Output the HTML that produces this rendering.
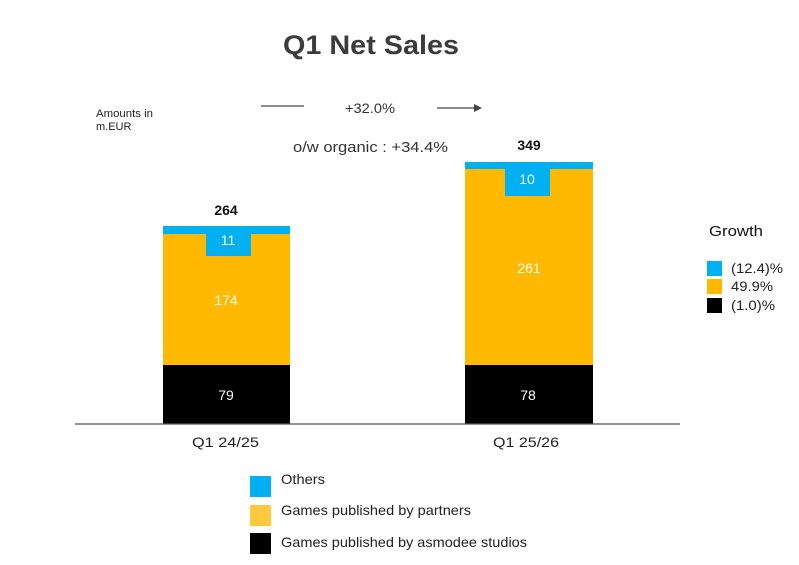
<!DOCTYPE html>
<html>
<head>
<meta charset="utf-8">
<style>
  html, body { margin:0; padding:0; background:#fff; }
  svg { display:block; }
  text { font-family: "Liberation Sans", "DejaVu Sans", sans-serif; }
</style>
</head>
<body>
<svg width="799" height="565" viewBox="0 0 799 565" xmlns="http://www.w3.org/2000/svg">
  <rect width="799" height="565" fill="#fff"/>

  <!-- Title -->
  <text x="283" y="54" font-size="27" font-weight="bold" fill="#3b3b3b" textLength="176" lengthAdjust="spacingAndGlyphs">Q1 Net Sales</text>

  <!-- Amounts in -->
  <text x="96" y="117" font-size="11" fill="#222" textLength="57" lengthAdjust="spacingAndGlyphs">Amounts in</text>
  <text x="96" y="130" font-size="11" fill="#222">m.EUR</text>

  <!-- growth line -->
  <line x1="261" y1="106" x2="304" y2="106" stroke="#444" stroke-width="1.3"/>
  <text x="345" y="113" font-size="14" fill="#333" textLength="50" lengthAdjust="spacingAndGlyphs">+32.0%</text>
  <line x1="437" y1="108" x2="476" y2="108" stroke="#444" stroke-width="1.3"/>
  <polygon points="474,104 482,108 474,112" fill="#444"/>
  <text x="293" y="152" font-size="15" fill="#333" textLength="155" lengthAdjust="spacingAndGlyphs">o/w organic : +34.4%</text>

  <!-- Bar 1 -->
  <rect x="163" y="226" width="127" height="8" fill="#00B0F0"/>
  <rect x="163" y="234" width="127" height="131" fill="#FFB900"/>
  <rect x="206" y="233" width="45" height="23" fill="#00B0F0"/>
  <rect x="163" y="365" width="127" height="59" fill="#000"/>
  <text x="228" y="245" text-anchor="middle" font-size="14" fill="#fff">11</text>
  <text x="226" y="305" text-anchor="middle" font-size="14" fill="#fff">174</text>
  <text x="226" y="400" text-anchor="middle" font-size="14" fill="#fff">79</text>
  <text x="226" y="215" text-anchor="middle" font-size="14" font-weight="bold" fill="#111">264</text>

  <!-- Bar 2 -->
  <rect x="465" y="162" width="128" height="7" fill="#00B0F0"/>
  <rect x="465" y="169" width="128" height="196" fill="#FFB900"/>
  <rect x="505" y="168" width="45" height="28" fill="#00B0F0"/>
  <rect x="465" y="365" width="128" height="59" fill="#000"/>
  <text x="527" y="184" text-anchor="middle" font-size="14" fill="#fff">10</text>
  <text x="529" y="273" text-anchor="middle" font-size="14" fill="#fff">261</text>
  <text x="528" y="400" text-anchor="middle" font-size="14" fill="#fff">78</text>
  <text x="529" y="150" text-anchor="middle" font-size="14" font-weight="bold" fill="#111">349</text>

  <!-- axis -->
  <line x1="75" y1="424" x2="680" y2="424" stroke="#555" stroke-width="1.3"/>
  <text x="192" y="447" font-size="14" fill="#222" textLength="67" lengthAdjust="spacingAndGlyphs">Q1 24/25</text>
  <text x="493" y="447" font-size="14" fill="#222" textLength="66" lengthAdjust="spacingAndGlyphs">Q1 25/26</text>

  <!-- Growth legend -->
  <text x="709" y="236" font-size="15" fill="#111" textLength="54" lengthAdjust="spacingAndGlyphs">Growth</text>
  <rect x="707" y="261" width="15" height="15" fill="#00B0F0"/>
  <rect x="707" y="279" width="15" height="15" fill="#FFB900"/>
  <rect x="707" y="298" width="15" height="15" fill="#000"/>
  <text x="731" y="273" font-size="14" fill="#222" textLength="52" lengthAdjust="spacingAndGlyphs">(12.4)%</text>
  <text x="731" y="291" font-size="14" fill="#222" textLength="42" lengthAdjust="spacingAndGlyphs">49.9%</text>
  <text x="731" y="310" font-size="14" fill="#222" textLength="44" lengthAdjust="spacingAndGlyphs">(1.0)%</text>

  <!-- Bottom legend -->
  <rect x="250" y="476" width="21" height="21" fill="#00B0F0"/>
  <rect x="250" y="505" width="21" height="21" fill="#FFC83D"/>
  <rect x="250" y="533" width="21" height="21" fill="#000"/>
  <text x="281" y="484" font-size="14" fill="#222" textLength="44" lengthAdjust="spacingAndGlyphs">Others</text>
  <text x="281" y="515" font-size="14" fill="#222" textLength="190" lengthAdjust="spacingAndGlyphs">Games published by partners</text>
  <text x="281" y="547" font-size="14" fill="#222" textLength="246" lengthAdjust="spacingAndGlyphs">Games published by asmodee studios</text>
</svg>
</body>
</html>
